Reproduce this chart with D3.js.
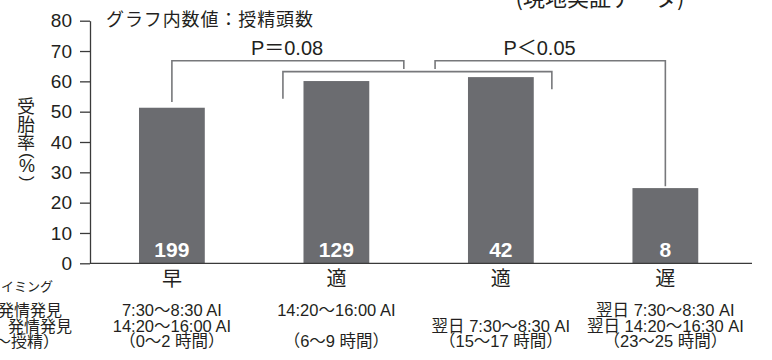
<!DOCTYPE html>
<html>
<head>
<meta charset="utf-8">
<script src="https://cdn.jsdelivr.net/npm/d3@7"></script>
<style>
  html, body { margin: 0; padding: 0; background: #fff; }
  svg { display: block; }
  text { font-family: "Liberation Sans", "Noto Sans CJK JP", sans-serif; fill: #231f20; }
</style>
</head>
<body>
<svg id="chart" width="772" height="360"></svg>
<script>
// 授精タイミング別の受胎率（グラフ内数値は授精頭数）
const categories = ["早", "適", "適", "遅"];
const rates = [51.3, 60.1, 61.4, 24.8];
const counts = [199, 129, 42, 8];
const timingAm = ["7:30～8:30 AI", "14:20～16:00 AI", "", "翌日 7:30～8:30 AI"];
const timingPm = ["14:20～16:00 AI", "", "翌日 7:30～8:30 AI", "翌日 14:20～16:30 AI"];
const intervals = ["（0～2 時間）", "（6～9 時間）", "（15～17 時間）", "（23～25 時間）"];
const yTicks = [0, 10, 20, 30, 40, 50, 60, 70, 80];
const rowHeaders = ["授精タイミング", "午前 発情発見", "午後　発情発見", "（発情発見～授精）"];

// 有意差ブラケット（x はカテゴリ位置、y は受胎率の値）
const brackets = [
  { x1: 0, x2: 1.41, top: 66.8, foot1: 53.2, foot2: 64.1, label: "P＝0.08", labelX: 0.7 },
  { x1: 0.675, x2: 2.31, top: 63.2, foot1: 54.3, foot2: 57.4, label: "", labelX: 0 },
  { x1: 1.6, x2: 3, top: 66.8, foot1: 64.1, foot2: 25.4, label: "P＜0.05", labelX: 2.235 }
];

const svg = d3.select("#chart");

const y = d3.scaleLinear().domain([0, 80]).range([263.3, 20.7]);
const x = d3.scaleBand()
  .domain(d3.range(categories.length))
  .range([89.65, 747.6])
  .paddingInner(0.6)
  .paddingOuter(0.3);
const center = i => x(i) + x.bandwidth() / 2;
const pos = d3.scaleLinear().domain([0, 1]).range([center(0), center(1)]);

// 棒
svg.append("g")
  .selectAll("rect")
  .data(rates)
  .join("rect")
  .attr("x", (d, i) => x(i))
  .attr("width", x.bandwidth())
  .attr("y", d => y(d))
  .attr("height", d => y(0) - y(d))
  .attr("fill", "#6b6c70");

// 授精頭数
svg.append("g")
  .selectAll("text")
  .data(counts)
  .join("text")
  .attr("x", (d, i) => center(i))
  .attr("y", y(0) - 6.5)
  .attr("text-anchor", "middle")
  .style("font-size", "21px")
  .style("font-weight", "bold")
  .style("fill", "#fff")
  .text(d => d);

// Y 軸
const yAxis = svg.append("g")
  .attr("transform", "translate(90,0)")
  .call(d3.axisLeft(y).tickValues(yTicks).tickSize(10).tickSizeOuter(0).tickPadding(8));
yAxis.select(".domain").attr("stroke", "#3a3a3a").attr("stroke-width", 1.3);
yAxis.selectAll(".tick line").attr("stroke", "#3a3a3a").attr("stroke-width", 1.3);
yAxis.selectAll(".tick text")
  .style("font-size", "19px")
  .style("font-family", "'Liberation Sans', sans-serif")
  .attr("fill", "#231f20");

// X 軸（基線とカテゴリ）
svg.append("line")
  .attr("x1", 90).attr("x2", 752)
  .attr("y1", y(0)).attr("y2", y(0))
  .attr("stroke", "#3a3a3a").attr("stroke-width", 1.3);

const xAxis = svg.append("g")
  .attr("transform", `translate(0,${y(0)})`)
  .call(d3.axisBottom(x).tickSize(0).tickPadding(9).tickFormat(i => categories[i]));
xAxis.select(".domain").remove();
xAxis.selectAll(".tick text")
  .style("font-size", "20px")
  .style("font-family", "'Noto Sans CJK JP', sans-serif")
  .attr("fill", "#231f20");

// 発情発見・授精時刻の行
const rows = [timingAm, timingPm, intervals];
const rowBase = [315.7, 331.5, 347];
rows.forEach((row, r) => {
  svg.append("g")
    .selectAll("text")
    .data(row)
    .join("text")
    .attr("x", (d, i) => center(i))
    .attr("y", rowBase[r])
    .attr("text-anchor", "middle")
    .style("font-size", "16.5px")
    .text(d => d);
});

// 行見出し（左端）
const headerEnd = [53, 62, 72, 59];
const headerBase = [291, 315.7, 331.5, 347];
svg.append("g")
  .selectAll("text")
  .data(rowHeaders)
  .join("text")
  .attr("x", (d, i) => headerEnd[i])
  .attr("y", (d, i) => headerBase[i])
  .attr("text-anchor", "end")
  .style("font-size", (d, i) => i === 0 ? "13px" : "16px")
  .style("font-family", "'Noto Sans CJK JP', sans-serif")
  .text(d => d);

// Y 軸タイトル「受胎率（%）」縦書き：1 つの text に文字ごとの tspan、括弧は 90°回転
const yTitleParts = [
  { t: "受", x: 26, y: 113.3, size: 18, cjk: true, rot: 0 },
  { t: "胎", x: 26, y: 131.3, size: 18, cjk: true, rot: 0 },
  { t: "率", x: 26, y: 149.3, size: 18, cjk: true, rot: 0 },
  { t: "(", x: 24.4, y: 152.9, size: 17, cjk: false, rot: 90 },
  { t: "%", x: 27, y: 172.3, size: 18, cjk: false, rot: 0 },
  { t: ")", x: 24.4, y: 176, size: 17, cjk: false, rot: 90 }
];
svg.append("text")
  .attr("text-anchor", "middle")
  .selectAll("tspan")
  .data(yTitleParts)
  .join("tspan")
  .attr("x", d => d.x)
  .attr("y", d => d.y)
  .attr("rotate", d => d.rot)
  .style("font-size", d => d.size + "px")
  .style("font-family", d => d.cjk ? "'Noto Sans CJK JP', sans-serif" : "'Liberation Sans', sans-serif")
  .text(d => d.t);

// 注記
svg.append("text")
  .attr("x", 106)
  .attr("y", 25.5)
  .style("font-size", "18px")
  .style("letter-spacing", "0.9px")
  .style("font-family", "'Noto Sans CJK JP', sans-serif")
  .text("グラフ内数値：授精頭数");

svg.append("text")
  .attr("x", 600)
  .attr("y", 6)
  .attr("text-anchor", "middle")
  .style("font-size", "22px")
  .style("font-family", "'Noto Sans CJK JP', sans-serif")
  .text("(現地実証データ)");

// 有意差ブラケット
const bg = svg.append("g");
brackets.forEach(b => {
  const path = d3.path();
  path.moveTo(pos(b.x1), y(b.foot1));
  path.lineTo(pos(b.x1), y(b.top));
  path.lineTo(pos(b.x2), y(b.top));
  path.lineTo(pos(b.x2), y(b.foot2));
  bg.append("path")
    .attr("d", path.toString())
    .attr("fill", "none")
    .attr("stroke", "#77787b")
    .attr("stroke-width", 1.6);
  if (b.label) {
    bg.append("text")
      .attr("x", pos(b.labelX))
      .attr("y", y(68.7))
      .attr("text-anchor", "middle")
      .style("font-size", "20px")
      .text(b.label);
  }
});
</script>
</body>
</html>
